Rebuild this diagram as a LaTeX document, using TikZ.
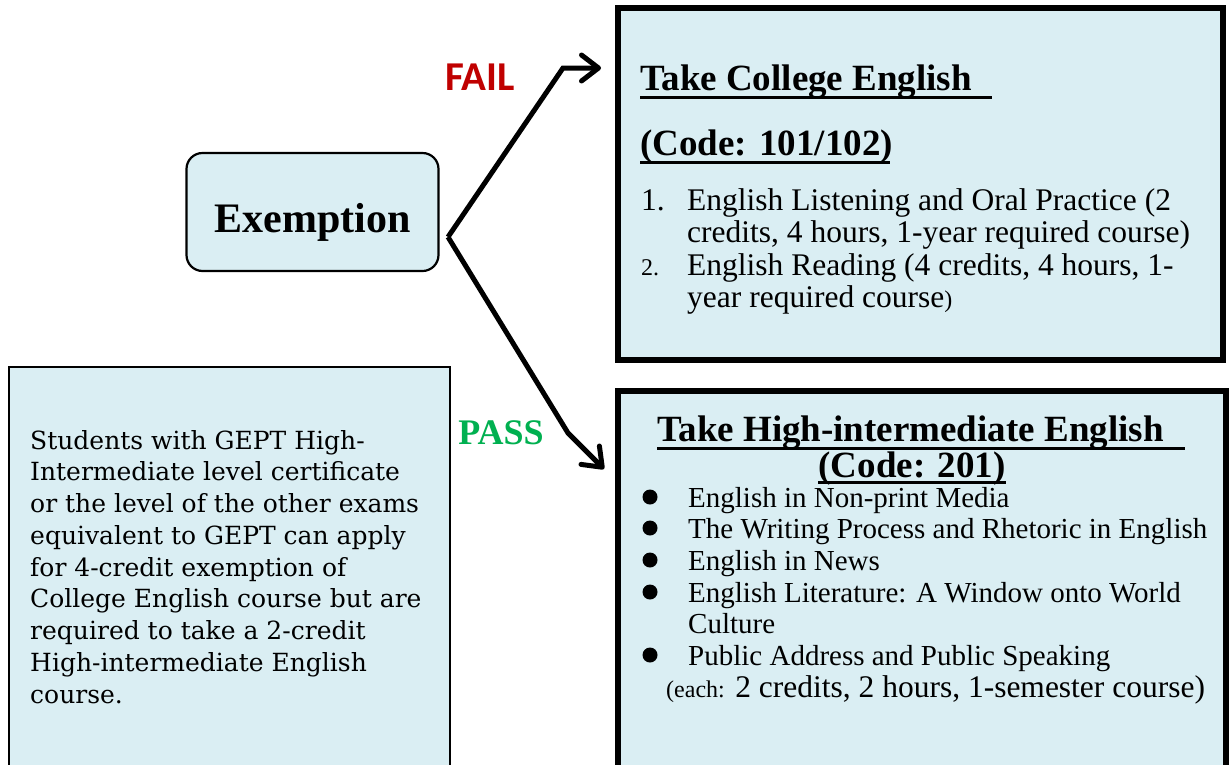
\documentclass[tikz,border=0pt]{standalone}
\usepackage{fontspec}
\setmainfont{Liberation Serif}
\newfontfamily\failfont{Carlito}
\newfontfamily\notefont{DejaVu Serif}
\usetikzlibrary{arrows.meta}
\definecolor{boxblue}{HTML}{DAEEF3}
\definecolor{failred}{HTML}{C00000}
\definecolor{passgreen}{HTML}{00B050}
\tikzset{
  bigbox/.style={draw, line width=6pt, fill=boxblue, inner sep=0pt},
  thinbox/.style={draw, line width=2.2pt, fill=boxblue, inner sep=0pt},
  head/.style={inner sep=0pt, anchor=base west, font=\fontsize{37}{40}\selectfont\bfseries},
  line/.style={inner sep=0pt, anchor=base west, font=\fontsize{31.5}{32}\selectfont},
  smallline/.style={inner sep=0pt, anchor=base west, font=\fontsize{29}{32}\selectfont},
  ul/.style={line width=3pt},
}
\begin{document}
\begin{tikzpicture}[x=1pt, y=-1pt, >={Straight Barb[length=17pt, width=26pt, round]}]
\clip (0,0) rectangle (1232,764);
\fill[white] (0,0) rectangle (1232,764);
% boxes
\node[bigbox, minimum width=605.5pt, minimum height=352pt] (college) at (920.25,184) {};
\node[bigbox, minimum width=608.5pt, minimum height=400pt] (high) at (921.75,591) {};
\node[thinbox, rounded corners=16pt, minimum width=252pt, minimum height=118pt,
  text height=40pt, text depth=0pt] (exempt) at (312.5,212)
  {\fontsize{42}{44}\selectfont\bfseries Exemption};
\node[thinbox, minimum width=441.6pt, minimum height=430pt] (note) at (229.5,582) {};
% arrows
\coordinate (fork) at (448,237);
\coordinate (failend) at (601,68);
\coordinate (passend) at (604,469);
\draw[->, line width=5pt] (fork) -- (563,68) -- (failend);
\draw[->, line width=5pt] (fork) -- (568,433) -- (passend);
\node[text=failred, font=\failfont\fontsize{41}{44}\selectfont\bfseries] (fail) at (480,77) {FAIL};
\node[text=passgreen, font=\fontsize{36}{40}\selectfont\bfseries] (pass) at (501,433) {PASS};
% College English
\node[head] (collegehead) at (640,90) {Take College English};
\draw[ul] (collegehead.base west) ++(0,7) -- ++(352,0);
\node[head] (collegecode) at (640,155) {(Code: 101/102)};
\draw[ul] (collegecode.base west) ++(0,7) -- ++(250,0);
\node[line] (n1) at (641,210) {1.};
\node[line] (c1a) at (687,210) {English Listening and Oral Practice (2};
\node[line] (c1b) at (687,242) {credits, 4 hours, 1-year required course)};
\node[line, font=\fontsize{24}{32}\selectfont] (n2) at (641,275) {2.};
\node[line] (c2a) at (687,275) {English Reading (4 credits, 4 hours, 1-};
\node[line] (c2b) at (687,307) {year required course\fontsize{24}{32}\selectfont)};
% High-intermediate English
\node[head, text depth=4pt] (highhead) at (657,441) {Take High-intermediate English};
\draw[ul] (highhead.base west) ++(0,7) -- ++(528,0);
\node[head, anchor=base, text height=21pt] (highcode) at (912,477) {(Code: 201)};
\draw[ul] ([yshift=-5pt]highcode.base west) -- ([yshift=-5pt]highcode.base east);
\foreach \t/\y in {English in Non-print Media/507, The Writing Process and Rhetoric in English/538,
    English in News/570, English Literature: A Window onto World/602, Public Address and Public Speaking/665}{
  \fill (650,\y-10) circle (7.5pt);
  \node[smallline] at (688,\y) {\t};
}
\node[smallline] (culture) at (688,633) {Culture};
\node[smallline, font=\fontsize{31.5}{32}\selectfont] (each) at (666,697)
  {{\fontsize{24}{32}\selectfont(each:} 2 credits, 2 hours, 1-semester course)};
% note text
\foreach \t [count=\i] in {Students with GEPT High-, Intermediate level certificate,
    or the level of the other exams, equivalent to GEPT can apply, for 4-credit exemption of,
    College English course but are, required to take a 2-credit, High-intermediate English, course.}{
  \node[inner sep=0pt, anchor=base west, font=\notefont\fontsize{25}{32}\selectfont] at (30,449+31.75*\i-31.75) {\t};
}
\end{tikzpicture}
\end{document}
